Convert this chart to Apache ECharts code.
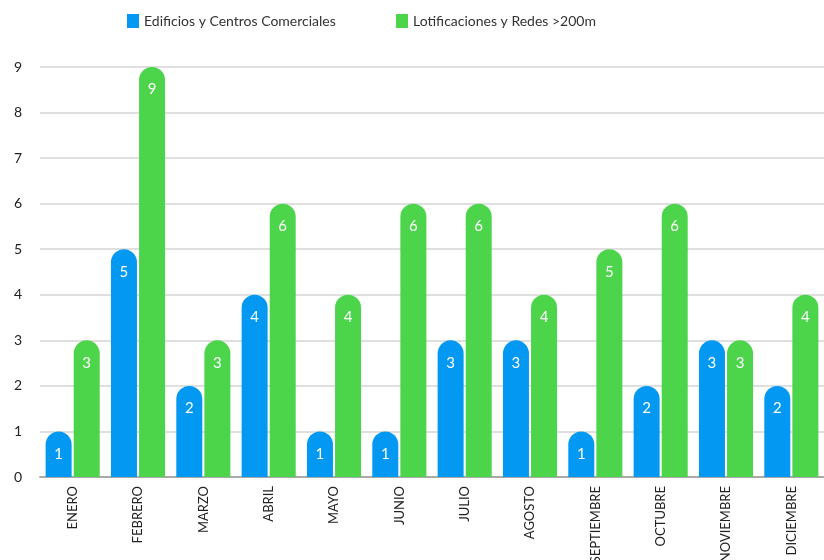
<!DOCTYPE html>
<html>
<head>
<meta charset="utf-8">
<script src="https://cdn.jsdelivr.net/npm/echarts@6/dist/echarts.min.js"></script>
<style>
  html, body { margin: 0; padding: 0; background: #fff; }
  #chart { width: 824px; height: 560px; }
</style>
</head>
<body>
<div id="chart"></div>
<script>
// Monthly counts by project type
const months = ['ENERO', 'FEBRERO', 'MARZO', 'ABRIL', 'MAYO', 'JUNIO', 'JULIO', 'AGOSTO', 'SEPTIEMBRE', 'OCTUBRE', 'NOVIEMBRE', 'DICIEMBRE'];
const edificios = [1, 5, 2, 4, 1, 1, 3, 3, 1, 2, 3, 2];
const lotificaciones = [3, 9, 3, 6, 4, 6, 6, 4, 5, 6, 3, 4];
const yTicks = [0, 1, 2, 3, 4, 5, 6, 7, 8, 9];
const seriesNames = ['Edificios y Centros Comerciales', 'Lotificaciones y Redes >200m'];

const FONT = 'Lato, "Open Sans", sans-serif';
const BLUE = '#0399F2';
const GREEN = '#4CD54A';

const chart = echarts.init(document.getElementById('chart'), null, { renderer: 'canvas' });

const barLabel = {
  show: true,
  position: 'insideTop',
  distance: 15,
  color: '#fff',
  fontSize: 15,
  fontFamily: FONT
};

const legendBase = {
  top: 9,
  itemWidth: 12,
  itemHeight: 14,
  itemGap: 6,
  icon: 'rect',
  textStyle: { fontSize: 14, color: '#333', fontFamily: FONT }
};

chart.setOption({
  animation: false,
  textStyle: { fontFamily: FONT },
  legend: [
    Object.assign({}, legendBase, { left: 122, data: [seriesNames[0]] }),
    Object.assign({}, legendBase, { left: 391, data: [seriesNames[1]] })
  ],
  grid: { left: 40, right: 0, top: 67, bottom: 83, containLabel: false, outerBoundsMode: 'none' },
  xAxis: {
    type: 'category',
    data: months,
    axisLine: { lineStyle: { color: '#aaa', width: 2 } },
    axisTick: { show: false },
    axisLabel: {
      rotate: 90,
      interval: 0,
      margin: 9,
      color: '#222',
      fontSize: 13,
      fontFamily: FONT
    }
  },
  yAxis: {
    type: 'value',
    min: yTicks[0],
    max: yTicks[yTicks.length - 1],
    interval: 1,
    axisLine: { show: false },
    axisTick: { show: false },
    axisLabel: { color: '#222', fontSize: 14, margin: 18, fontFamily: FONT },
    splitLine: { lineStyle: { color: '#d4d4d4', width: 1.5 } }
  },
  series: [
    {
      name: seriesNames[0],
      type: 'bar',
      data: edificios,
      barWidth: 26,
      barGap: '8%',
      itemStyle: { color: BLUE, borderRadius: [13, 13, 0, 0] },
      label: barLabel
    },
    {
      name: seriesNames[1],
      type: 'bar',
      data: lotificaciones,
      barWidth: 26,
      itemStyle: { color: GREEN, borderRadius: [13, 13, 0, 0] },
      label: barLabel
    }
  ]
});
</script>
</body>
</html>
